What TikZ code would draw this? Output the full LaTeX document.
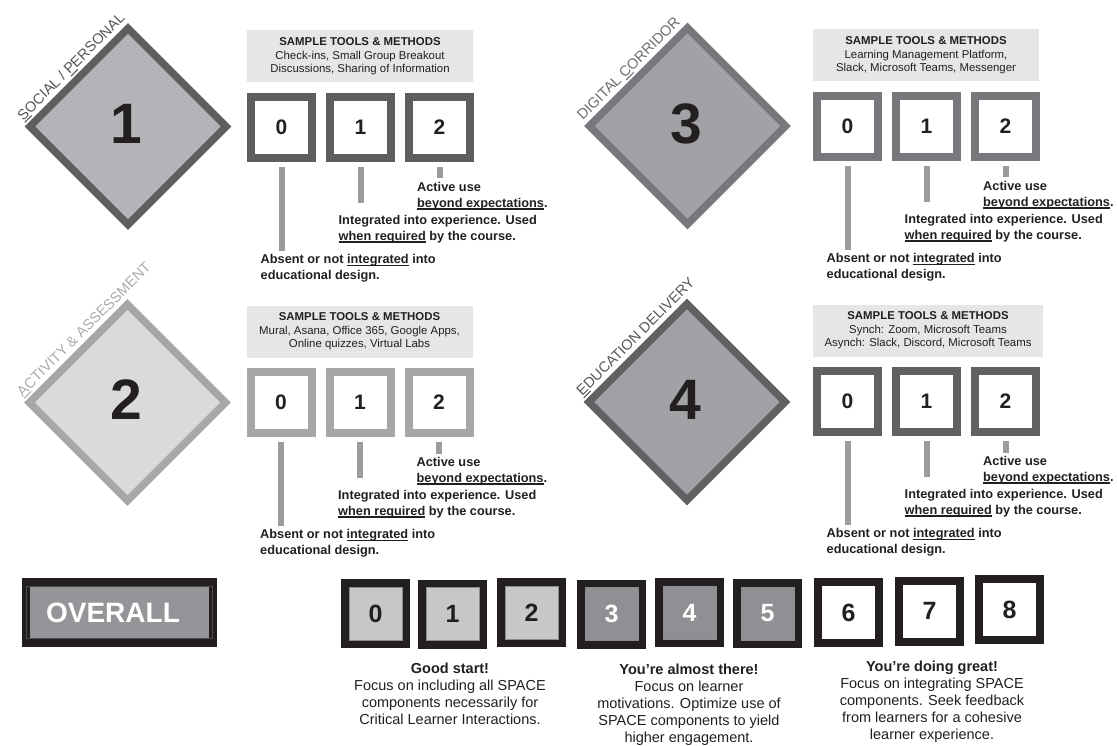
\documentclass[tikz,border=0pt]{standalone}
\usepackage{fontspec}
\setmainfont{Liberation Sans}
\usetikzlibrary{shapes.geometric}
\definecolor{dig}{HTML}{231F20}
\definecolor{bdA}{HTML}{5E5E60}\definecolor{flA}{HTML}{B3B4B7}\definecolor{lbA}{HTML}{575757}
\definecolor{bdB}{HTML}{A6A7A9}\definecolor{flB}{HTML}{D9DADB}\definecolor{lbB}{HTML}{ABABAB}
\definecolor{bdC}{HTML}{77787B}\definecolor{flC}{HTML}{A1A2A5}\definecolor{lbC}{HTML}{6E6E6E}
\definecolor{bdD}{HTML}{616163}\definecolor{flD}{HTML}{A1A2A5}\definecolor{lbD}{HTML}{575757}
\definecolor{toolfill}{HTML}{E6E6E7}
\definecolor{barc}{HTML}{9C9C9E}
\definecolor{ovlight}{HTML}{C6C7C9}
\definecolor{ovmid}{HTML}{8F9093}
\definecolor{ovgray}{HTML}{939598}
\definecolor{ovline}{HTML}{8A8B8D}
\newcommand\ulx[1]{\setbox0\hbox{#1}\rlap{\rule[-2.4pt]{\wd0}{1.1pt}}\box0\relax}
\tikzset{
  diam/.style={diamond, shape aspect=1, draw=#1, line width=7.5pt, line join=miter,
    minimum width=199.4pt, minimum height=199.4pt, inner sep=0pt},
  bignum/.style={inner sep=0pt, text=dig, font=\fontsize{57}{57}\selectfont\bfseries},
  lbl/.style={inner sep=0pt, anchor=base west, rotate=45, font=\fontsize{14.5}{14.5}\selectfont},
  toolbox/.style={fill=toolfill, inner sep=0pt, align=center, text=dig,
    minimum height=52pt, font=\fontsize{11.4}{13.6}\selectfont},
  scorebox/.style={draw=#1, line width=8pt, fill=white, minimum size=61pt, inner sep=0pt,
    outer sep=4pt, text=dig, font=\fontsize{21}{21}\selectfont\bfseries},
  desc/.style={anchor=north west, inner sep=0pt, align=left, text=dig,
    font=\fontsize{12.75}{15.7}\selectfont\bfseries},
  barline/.style={draw=barc, line width=6pt},
  obox/.style={draw=dig, line width=8pt, minimum size=61pt, inner sep=0pt, outer sep=4pt,
    font=\fontsize{25}{25}\selectfont\bfseries},
  innerline/.style={draw=ovline, line width=0.8pt},
  summary/.style={anchor=north, inner sep=0pt, align=center, text=dig,
    font=\fontsize{14.5}{17}\selectfont}
}
% #1 id, #2 L, #3 T, #4 dx, #5 dy, #6 number, #7 label, #8 tools, #9 tools width
\newcommand\panel[9]{%
  \node[diam=bd#1, fill=fl#1] (d#1) at (#4,#5) {};
  \node[bignum] (n#1) at ({#4-1.5},{#5-2.5}) {#6};
  \node[lbl, text=lb#1] (l#1) at ({#4-104.65},{#5-5.3}) {#7};
  \node[toolbox, minimum width=#9pt] (t#1) at ({#2+#9/2},{#3-36.5}) {#8};
  \node[scorebox=bd#1] (b#1a) at ({#2+34.5},{#3+34.5}) {0};
  \node[scorebox=bd#1] (b#1b) at ({#2+113.5},{#3+34.5}) {1};
  \node[scorebox=bd#1] (b#1c) at ({#2+192.5},{#3+34.5}) {2};
  \node[desc] (x#1c) at ({#2+170},{#3+89}) {Active use\\\ulx{beyond expectations}.};
  \node[desc] (x#1b) at ({#2+91.5},{#3+122}) {Integrated into experience. Used\\\ulx{when required} by the course.};
  \node[desc] (x#1a) at ({#2+13.5},{#3+161.5}) {Absent or not \ulx{integrated} into\\educational design.};
  \draw[barline] ([yshift=-5pt]b#1a.south) -- ++(0,84) coordinate (e#1a);
  \draw[barline] ([yshift=-5pt]b#1b.south) -- ++(0,36) coordinate (e#1b);
  \draw[barline] ([yshift=-5pt]b#1c.south) -- ++(0,11.5) coordinate (e#1c);
}
\newcommand\ovbox[5]{% #1 name, #2 x, #3 y, #4 fill, #5 text colour ; digit = name
  \node[obox, fill=#4, text=#5] (o#1) at (#2,#3) {#1};
  \draw[innerline] ({#2-26.5},{#3-26.5}) rectangle ({#2+26.5},{#3+26.5});
}
\begin{document}
\begin{tikzpicture}[x=1pt,y=-1pt]
\fill[white] (0,0) rectangle (1117,746);
\useasboundingbox (0,0) rectangle (1117,746);

\panel{A}{247}{93}{128}{126.5}{1}{\ulx{S}OCIAL / \ulx{P}ERSONAL}%
  {\textbf{SAMPLE TOOLS \& METHODS}\\Check-ins, Small Group Breakout\\Discussions, Sharing of Information}{226}
\panel{B}{246.5}{368}{127.5}{402.5}{2}{\ulx{A}CTIVITY \& ASSESSMENT}%
  {\textbf{SAMPLE TOOLS \& METHODS}\\Mural, Asana, Office 365, Google Apps,\\Online quizzes, Virtual Labs}{226}
\panel{C}{813}{92}{687.5}{126}{3}{DIGITAL \ulx{C}ORRIDOR}%
  {\textbf{SAMPLE TOOLS \& METHODS}\\Learning Management Platform,\\Slack, Microsoft Teams, Messenger}{226}
\panel{D}{813}{367}{687}{402}{4}{\ulx{E}DUCATION DELIVERY}%
  {\textbf{SAMPLE TOOLS \& METHODS}\\Synch: Zoom, Microsoft Teams\\Asynch: Slack, Discord, Microsoft Teams}{230}

% overall
\node[draw=dig, line width=8pt, fill=ovgray, minimum width=187pt, minimum height=61pt, inner sep=0pt] (ov) at (119.5,612.5) {};
\draw[draw=black!70, line width=0.8pt] (26.5,586.5) rectangle (212.5,638.5);
\node[inner sep=0pt, text=white, font=\fontsize{28}{28}\selectfont\bfseries] (ovt) at (113,613) {OVERALL};

\ovbox{0}{375.5}{613.5}{ovlight}{dig}
\ovbox{1}{452.5}{614}{ovlight}{dig}
\ovbox{2}{531.5}{612.5}{ovlight}{dig}
\ovbox{3}{611.5}{614}{ovmid}{white}
\ovbox{4}{689.5}{612.5}{ovmid}{white}
\ovbox{5}{767.5}{613.5}{ovmid}{white}
\node[obox, fill=white, text=dig] (o6) at (848.5,612.5) {6};
\node[obox, fill=white, text=dig] (o7) at (929.5,611) {7};
\node[obox, fill=white, text=dig] (o8) at (1009.5,609.5) {8};

\node[summary] (s1) at (450,663) {\textbf{Good start!}\\Focus on including all SPACE\\components necessarily for\\Critical Learner Interactions.};
\node[summary] (s2) at (689,664) {\textbf{You’re almost there!}\\Focus on learner\\motivations. Optimize use of\\SPACE components to yield\\higher engagement.};
\node[summary] (s3) at (932,661) {\textbf{You’re doing great!}\\Focus on integrating SPACE\\components. Seek feedback\\from learners for a cohesive\\learner experience.};
\end{tikzpicture}
\end{document}
